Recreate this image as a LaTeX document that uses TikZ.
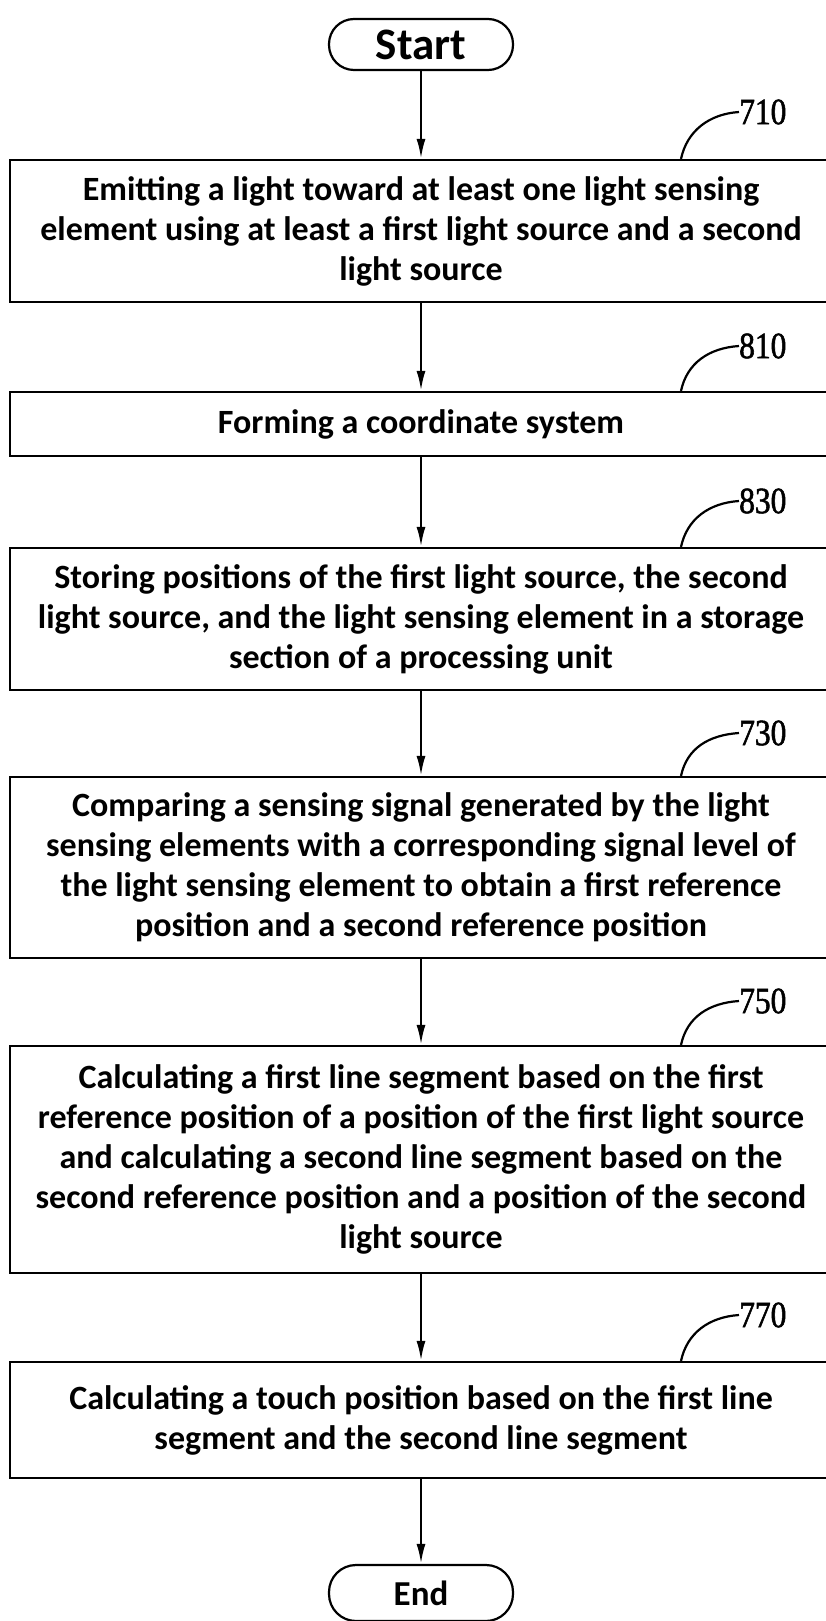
\documentclass[tikz,border=0pt]{standalone}
\usepackage{fontspec}
\setmainfont{Carlito}
\newfontfamily\labelfont[FakeStretch=0.85,FakeBold=1.5]{Liberation Serif}
\usetikzlibrary{arrows.meta}
\tikzset{
  stepbox/.style={draw, line width=2.2pt, minimum width=822pt, align=center,
    font=\bfseries\fontsize{34}{40}\selectfont, inner sep=0pt},
  term/.style={draw, line width=2.2pt, minimum width=184pt, align=center, inner sep=0pt},
  arr/.style={-{Latex[length=20pt,width=9pt]}, line width=2.4pt},
  lab/.style={font=\labelfont\fontsize{37}{37}\selectfont, anchor=west, inner sep=0pt},
  leader/.style={line width=2.2pt}
}
\begin{document}
\begin{tikzpicture}[x=1pt,y=-1pt]
\useasboundingbox (0,0) rectangle (825,1621);
\node[term, minimum height=51pt, rounded corners=25pt, font=\bfseries\fontsize{45}{45}\selectfont] (start) at (421,44.5) {Start};
\node[stepbox, minimum height=142pt] (b710) at (421,231) {Emitting a light toward at least one light sensing\\element using at least a first light source and a second\\light source};
\node[stepbox, minimum height=64pt] (b810) at (421,424) {Forming a coordinate system};
\node[stepbox, minimum height=142pt] (b830) at (421,619) {Storing positions of the first light source, the second\\light source, and the light sensing element in a storage\\section of a processing unit};
\node[stepbox, minimum height=181pt] (b730) at (421,867.5) {Comparing a sensing signal generated by the light\\sensing elements with a corresponding signal level of\\the light sensing element to obtain a first reference\\position and a second reference position};
\node[stepbox, minimum height=227pt] (b750) at (421,1159.5) {Calculating a first line segment based on the first\\reference position of a position of the first light source\\and calculating a second line segment based on the\\second reference position and a position of the second\\light source};
\node[stepbox, minimum height=116pt] (b770) at (421,1420) {Calculating a touch position based on the first line\\segment and the second line segment};
\node[term, minimum height=56pt, rounded corners=27pt, font=\bfseries\fontsize{35}{35}\selectfont] (end) at (421,1593) {End};

\draw[arr] (start) -- (b710);
\draw[arr] (b710) -- (b810);
\draw[arr] (b810) -- (b830);
\draw[arr] (b830) -- (b730);
\draw[arr] (b730) -- (b750);
\draw[arr] (b750) -- (b770);
\draw[arr] (b770) -- (end);

\node[lab] (l710) at (739,112) {710};
\node[lab] (l810) at (739,346) {810};
\node[lab] (l830) at (739,501) {830};
\node[lab] (l730) at (739,733) {730};
\node[lab] (l750) at (739,1001) {750};
\node[lab] (l770) at (739,1315) {770};
\foreach \n in {710,810,830,730,750,770}{
  \draw[leader] (l\n.west) .. controls +(-30,2) and +(6,-28) .. ([xshift=260pt]b\n.north);
}
\end{tikzpicture}
\end{document}
